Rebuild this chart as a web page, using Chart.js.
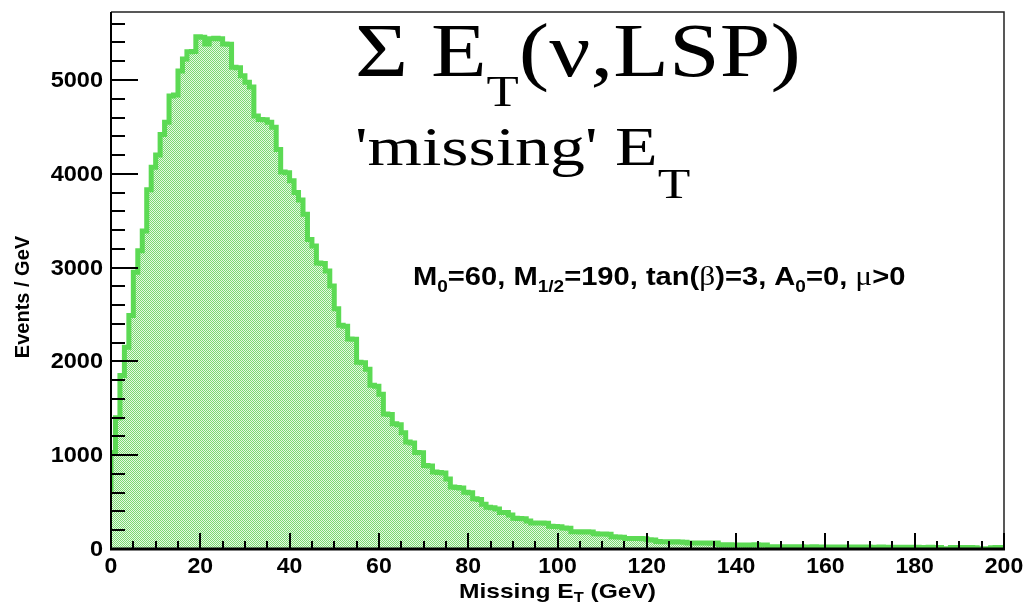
<!DOCTYPE html>
<html><head><meta charset="utf-8">
<script src="https://cdn.jsdelivr.net/npm/chart.js@4.4.0/dist/chart.umd.min.js"></script>
<style>html,body{margin:0;padding:0;background:#fff;overflow:hidden}#wrap{position:relative;width:1025px;height:605px}</style>
</head><body><div id="wrap"><canvas id="c" width="1025" height="605"></canvas></div>
<script>
// ---- data (1 GeV bins, 0..200 GeV) ----
const xRange = [0, 200];
const yMax = 5725;
const counts = [
  610,1030,1400,1850,2150,2490,2950,3180,3390,3830,
  4070,4200,4420,4550,4830,4840,5095,5225,5300,5305,
  5460,5455,5385,5440,5445,5440,5385,5380,5135,5130,
  5045,4975,4925,4615,4580,4575,4550,4495,4260,4020,
  4010,3925,3800,3720,3570,3300,3230,3050,3045,2965,
  2805,2560,2385,2375,2240,2235,1990,1985,1915,1745,
  1735,1650,1440,1435,1335,1325,1240,1140,1130,1030,
  1025,890,885,820,815,810,745,660,655,650,
  605,600,535,528,478,445,440,426,390,388,
  362,328,325,322,298,278,277,276,274,242,
  240,238,225,222,185,184,182,183,180,162,
  160,159,158,130,128,126,112,113,111,112,
  110,98,97,80,78,76,75,76,74,72,
  65,64,65,63,64,62,63,44,43,44,
  42,43,42,41,43,44,42,43,24,23,
  24,22,23,24,22,23,21,22,23,21,
  22,20,21,22,20,21,19,20,21,19,
  20,19,18,20,19,18,19,17,18,19,
  17,18,16,17,18,16,17,2,1,16,
  17,15,16,15,14,3,2,3,14,15
];
const binEdges = counts.map((_, i) => i);            // low edge of each bin
const yMajorTicks = [0,1000,2000,3000,4000,5000];
const yTickLabels = ['0','1000','2000','3000','4000','5000'];
const xMajorTicks = [0,20,40,60,80,100,120,140,160,180,200];
const xTickLabels = ['0','20','40','60','80','100','120','140','160','180','200'];
const yMinorStep = 200, xMinorStep = 5;
const yTitle = 'Events / GeV';

// ---- styles ----
const LINE = 'rgb(92,218,84)';
const SANS = '"Liberation Sans", Arial, sans-serif';
const SERIF = '"Liberation Serif", "Times New Roman", serif';

const canvas = document.getElementById('c');
const mctx = canvas.getContext('2d');
function makePattern(){
  const p = document.createElement('canvas'); p.width = 2; p.height = 2;
  const g = p.getContext('2d');
  g.fillStyle = '#e6f8e3'; g.fillRect(0,0,2,2);
  g.fillStyle = '#7ad972'; g.fillRect(0,0,1,1); g.fillRect(1,1,1,1);
  return mctx.createPattern(p, 'repeat');
}

const points = binEdges.map((e, i) => ({x: e, y: counts[i]}));
points.push({x: xRange[1], y: counts[counts.length-1]});

function drawRuns(ctx, parts, x, y, sx, align){
  let total = 0;
  for (const p of parts){ ctx.font = p.font; total += ctx.measureText(p.t).width * sx; }
  let cx = align === 'center' ? x - total/2 : (align === 'right' ? x - total : x);
  ctx.textAlign = 'left';
  for (const p of parts){
    ctx.font = p.font;
    ctx.save(); ctx.translate(cx, y + (p.dy || 0)); ctx.scale(sx, 1);
    ctx.fillText(p.t, 0, 0); ctx.restore();
    cx += ctx.measureText(p.t).width * sx;
  }
}

const rootFrame = {
  id: 'rootFrame',
  afterDraw(chart){
    const ctx = chart.ctx;
    const {left, right, top, bottom} = chart.chartArea;
    const xs = chart.scales.x, ys = chart.scales.y;
    ctx.save();
    ctx.strokeStyle = '#000'; ctx.fillStyle = '#000';
    // frame
    ctx.lineWidth = 1.5; ctx.strokeStyle = '#222';
    ctx.beginPath(); ctx.moveTo(left, top); ctx.lineTo(right, top); ctx.lineTo(right, bottom); ctx.stroke();
    ctx.strokeStyle = '#000';
    ctx.lineWidth = 2;
    ctx.beginPath(); ctx.moveTo(left, top); ctx.lineTo(left, bottom); ctx.stroke();
    ctx.lineWidth = 3;
    ctx.beginPath(); ctx.moveTo(left - 1, bottom); ctx.lineTo(right + 1, bottom); ctx.stroke();
    // y ticks
    ctx.lineWidth = 2;
    for (let v = 0; v <= yMax; v += yMinorStep){
      const py = Math.round(ys.getPixelForValue(v));
      const len = (v % 1000 === 0) ? 27 : 14;
      ctx.beginPath(); ctx.moveTo(left, py); ctx.lineTo(left + len, py); ctx.stroke();
    }
    // x ticks
    for (let v = xRange[0]; v <= xRange[1]; v += xMinorStep){
      const px = Math.round(xs.getPixelForValue(v));
      const len = (v % 20 === 0) ? 16 : 8;
      ctx.beginPath(); ctx.moveTo(px, bottom); ctx.lineTo(px, bottom - len); ctx.stroke();
    }
    // tick labels
    ctx.textBaseline = 'middle';
    yMajorTicks.forEach((v, i) => {
      drawRuns(ctx, [{t: yTickLabels[i], font: 'bold 22px ' + SANS}], left - 8, ys.getPixelForValue(v) + 1, 1.07, 'right');
    });
    ctx.textBaseline = 'alphabetic';
    xMajorTicks.forEach((v, i) => {
      drawRuns(ctx, [{t: xTickLabels[i], font: 'bold 22px ' + SANS}], xs.getPixelForValue(v), bottom + 24, 1.05, 'center');
    });
    // axis titles
    drawRuns(ctx, [
      {t: 'Missing E', font: 'bold 21px ' + SANS},
      {t: 'T', font: 'bold 14px ' + SANS, dy: 4},
      {t: ' (GeV)', font: 'bold 21px ' + SANS}
    ], (left + right)/2, 598, 1.17, 'center');
    ctx.save(); ctx.translate(29, 297); ctx.rotate(-Math.PI/2);
    drawRuns(ctx, [{t: yTitle, font: 'bold 20px ' + SANS}], 0, 0, 1.0, 'center');
    ctx.restore();
    // annotations
    drawRuns(ctx, [
      {t: '\u03A3 E', font: '76px ' + SERIF},
      {t: 'T', font: '44px ' + SERIF, dy: 30},
      {t: '(\u03BD,LSP)', font: '76px ' + SERIF}
    ], 355, 76, 1.2, 'left');
    drawRuns(ctx, [
      {t: "'missing' E", font: '55px ' + SERIF},
      {t: 'T', font: '42px ' + SERIF, dy: 33}
    ], 355, 165, 1.27, 'left');
    const B = 'bold 26px ' + SANS, S = 'bold 17px ' + SANS, G = '28px ' + SERIF;
    drawRuns(ctx, [
      {t: 'M', font: B}, {t: '0', font: S, dy: 7}, {t: '=60, M', font: B}, {t: '1/2', font: S, dy: 7},
      {t: '=190, tan(', font: B}, {t: '\u03B2', font: G}, {t: ')=3, A', font: B}, {t: '0', font: S, dy: 7},
      {t: '=0, ', font: B}, {t: '\u03BC', font: G}, {t: '>0', font: B}
    ], 413, 285, 1.12, 'left');
    ctx.restore();
  }
};

new Chart(canvas, {
  type: 'line',
  data: { datasets: [{
    data: points,
    stepped: 'after',
    borderColor: LINE,
    borderWidth: 5,
    borderJoinStyle: 'miter',
    borderCapStyle: 'butt',
    backgroundColor: makePattern(),
    fill: 'origin',
    pointRadius: 0,
    tension: 0
  }]},
  options: {
    responsive: false, animation: false, devicePixelRatio: 1,
    layout: { padding: { left: 111, right: 21, top: 12, bottom: 56 } },
    scales: {
      x: { type: 'linear', min: xRange[0], max: xRange[1], display: false },
      y: { type: 'linear', min: 0, max: yMax, display: false }
    },
    plugins: { legend: { display: false }, tooltip: { enabled: false } }
  },
  plugins: [rootFrame]
});
</script></body></html>
